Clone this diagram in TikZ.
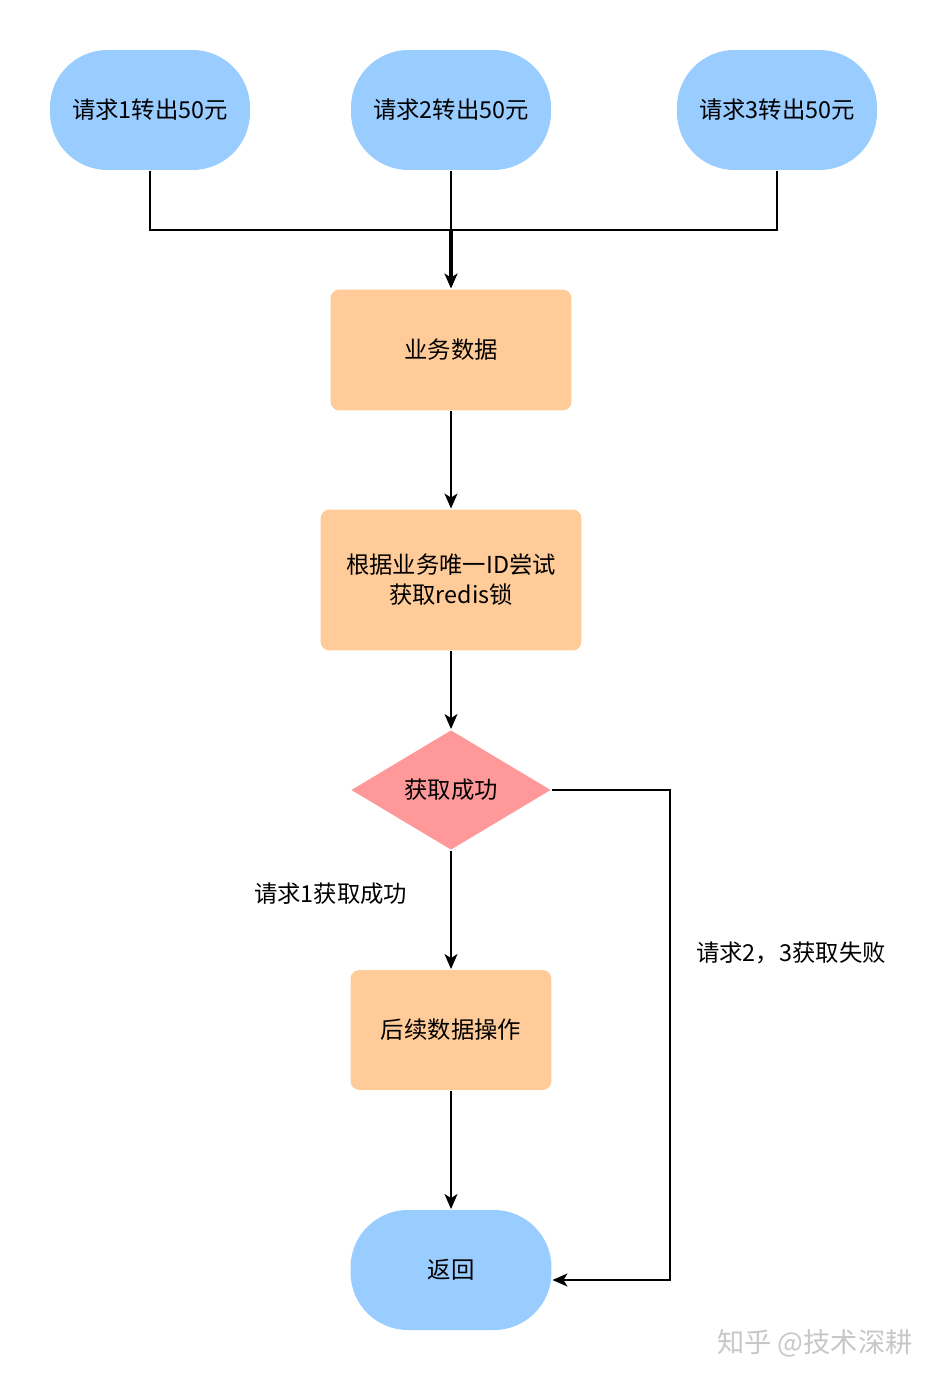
\documentclass[tikz,border=0pt]{standalone}
\usepackage{fontspec}
\setmainfont{Noto Sans CJK SC}
\usetikzlibrary{shapes.geometric,arrows.meta}
\definecolor{termblue}{HTML}{99CCFF}
\definecolor{stepfill}{HTML}{FFCC99}
\definecolor{testred}{HTML}{FF9999}
\begin{document}
\begin{tikzpicture}[x=0.02cm, y=-0.02cm, font=\fontsize{13.3}{17}\selectfont,
  term/.style={rectangle, rounded corners=1.15cm, fill=termblue, minimum width=4cm, minimum height=2.4cm, inner sep=0pt},
  stepbox/.style={rectangle, rounded corners=0.18cm, fill=stepfill, inner sep=0pt, align=center},
  test/.style={diamond, aspect=1.667, fill=testred, minimum width=4cm, minimum height=2.4cm, inner sep=0pt},
  arr/.style={-{Stealth[length=0.3cm, width=0.26cm, inset=0.08cm]}},
  line width=1.1pt]
  \useasboundingbox (0,0) rectangle (940,1382);
  \node[term] (r1) at (150,110) {请求1转出50元};
  \node[term] (r2) at (451,110) {请求2转出50元};
  \node[term] (r3) at (777,110) {请求3转出50元};
  \coordinate (join) at (451,230);
  \node[stepbox, minimum width=4.82cm, minimum height=2.42cm] (biz) at (451,350) {业务数据};
  \node[stepbox, minimum width=5.22cm, minimum height=2.82cm] (lock) at (451,580) {根据业务唯一ID尝试\\获取redis锁};
  \node[test] (ok) at (451,790) {获取成功};
  \node[stepbox, minimum width=4.02cm, minimum height=2.4cm] (next) at (451,1030) {后续数据操作};
  \node[term, minimum width=4.02cm] (ret) at (451,1270) {返回};
  \coordinate (turn) at (670,790);
  % connectors
  \draw (r1.south) |- (join) -| (r3.south);
  \draw (r2.south) -- (join);
  \draw[arr, line width=1.9pt] (join) -- (biz.north);
  \draw[arr] (biz) -- (lock);
  \draw[arr] (lock) -- (ok);
  \draw[arr] (ok) -- (next) node[pos=0.36, left=21pt] {请求1获取成功};
  \draw[arr] (next) -- (ret);
  \draw[arr] (ok.east) -- (turn) |- ([yshift=-0.2cm]ret.east);
  \node (fail) at (791,953) {请求2，3获取失败};
  \node[text=black!22, font=\fontsize{15.5}{18}\selectfont] (mark) at (815,1343) {知乎 @技术深耕};
\end{tikzpicture}
\end{document}
